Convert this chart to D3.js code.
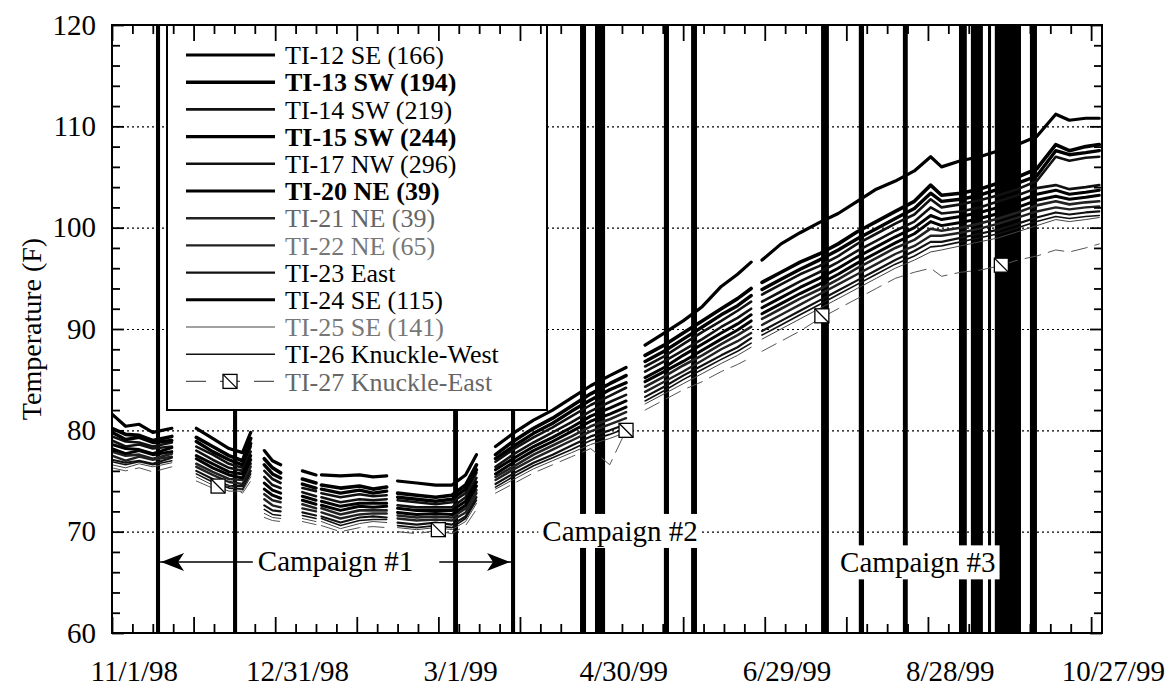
<!DOCTYPE html>
<html>
<head>
<meta charset="utf-8">
<script src="https://cdn.jsdelivr.net/npm/d3@7"></script>
<style>
  body { margin: 0; background: #fff; }
  svg text { font-family: "Liberation Serif", "Times New Roman", serif; fill: #000; }
</style>
</head>
<body>
<svg id="chart" width="1169" height="690"></svg>
<script>
// sample dates (gaps in the record are the null rows)
const dates = [
  "1998-10-24", "1998-10-29", "1998-11-03", "1998-11-08", "1998-11-15", "1998-11-19",
  "1998-11-24", "1998-11-30", "1998-12-06", "1998-12-11", "1998-12-14", "1998-12-16",
  "1998-12-19", "1998-12-22", "1998-12-25", "1998-12-29",
  "1999-01-02", "1999-01-07", "1999-01-08",
  "1999-01-09", "1999-01-16", "1999-01-23", "1999-01-28", "1999-02-02", "1999-02-04",
  "1999-02-06", "1999-02-13", "1999-02-20", "1999-02-26", "1999-03-03", "1999-03-07", "1999-03-10",
  "1999-03-14", "1999-03-21", "1999-03-28", "1999-04-04", "1999-04-11", "1999-04-18", "1999-04-25", "1999-05-01", "1999-05-04",
  "1999-05-08", "1999-05-15", "1999-05-22", "1999-05-29", "1999-06-05", "1999-06-11", "1999-06-16", "1999-06-18",
  "1999-06-20", "1999-06-27", "1999-07-04", "1999-07-11", "1999-07-18", "1999-07-25", "1999-08-01", "1999-08-08",
  "1999-08-15", "1999-08-21", "1999-08-25", "1999-09-01", "1999-09-08", "1999-09-15", "1999-09-22", "1999-09-29",
  "1999-10-06", "1999-10-11", "1999-10-17", "1999-10-22"
];

// temperatures (F) per thermocouple
const ti12 = [81.6, 80.4, 80.6, 79.8, 80.2, null, 80.2, 79.2, 78.2, 77.8, 79.8, null, 78.0, 77.0, 76.6, null, 76.0, 75.6, null, 75.6, 75.5, 75.6, 75.4, 75.5, null, 75.0, 74.8, 74.6, 74.6, 75.6, 77.6, null, 78.4, 79.8, 81.0, 82.0, 83.2, 84.4, 85.4, 86.2, null, 88.4, 89.6, 90.8, 92.2, 94.2, 95.4, 96.6, null, 96.8, 98.4, 99.5, 100.5, 101.4, 102.6, 103.8, 104.6, 105.6, 107.0, 106.0, 106.6, 107.0, 107.6, 108.2, 109.0, 111.2, 110.6, 110.8, 110.8];
const ti13 = [80.2, 79.6, 79.5, 79.0, 79.4, null, 79.3, 78.4, 77.5, 77.0, 79.2, null, 77.2, 76.3, 75.8, null, 75.2, 74.8, null, 74.6, 74.3, 74.5, 74.2, 74.4, null, 73.8, 73.6, 73.4, 73.6, 74.6, 76.6, null, 77.6, 79.0, 80.2, 81.2, 82.4, 83.6, 84.6, 85.4, null, 87.4, 88.4, 89.6, 90.8, 92.0, 93.0, 94.0, null, 94.6, 95.6, 96.6, 97.4, 98.4, 99.6, 100.6, 101.6, 102.6, 104.2, 103.2, 103.4, 103.8, 104.4, 105.0, 105.8, 108.2, 107.6, 108.0, 108.2];
const ti14 = [79.4, 78.9, 78.8, 78.4, 78.8, null, 78.4, 77.6, 76.7, 76.3, 78.4, null, 76.0, 75.2, 74.8, null, 74.3, 74.0, null, 73.8, 73.4, 73.7, 73.5, 73.6, null, 73.1, 72.9, 72.7, 72.9, 73.8, 75.8, null, 76.9, 78.2, 79.3, 80.3, 81.4, 82.5, 83.4, 84.2, null, 86.3, 87.3, 88.5, 89.7, 90.8, 91.8, 92.7, null, 93.4, 94.4, 95.4, 96.2, 97.2, 98.4, 99.4, 100.4, 101.3, 102.8, 102.0, 102.3, 102.7, 103.2, 103.8, 104.6, 107.0, 106.6, 106.9, 107.0];
const ti15 = [79.8, 79.1, 79.3, 78.8, 79.0, null, 78.9, 77.9, 77.1, 76.6, 78.7, null, 76.6, 75.7, 75.3, null, 74.7, 74.3, null, 74.2, 73.8, 74.1, 73.8, 74.0, null, 73.4, 73.2, 73.0, 73.2, 74.2, 76.1, null, 77.2, 78.5, 79.7, 80.7, 81.9, 83.0, 84.0, 84.7, null, 86.8, 87.8, 89.0, 90.2, 91.4, 92.3, 93.3, null, 93.9, 94.9, 95.9, 96.8, 97.8, 98.9, 99.9, 100.9, 101.9, 103.4, 102.6, 102.8, 103.2, 103.8, 104.4, 105.1, 107.6, 107.2, 107.4, 107.6];
const ti17 = [79.0, 78.4, 78.6, 78.2, 78.4, null, 78.0, 77.1, 76.3, 76.0, 77.9, null, 75.4, 74.6, 74.3, null, 73.9, 73.5, null, 73.4, 72.9, 73.2, 73.1, 73.2, null, 72.6, 72.4, 72.4, 72.4, 73.4, 75.3, null, 76.4, 77.7, 78.8, 79.8, 80.8, 81.9, 82.8, 83.5, null, 85.8, 86.8, 87.9, 89.0, 90.2, 91.1, 92.0, null, 92.7, 93.7, 94.7, 95.6, 96.6, 97.7, 98.7, 99.7, 100.6, 102.0, 101.4, 101.6, 102.0, 102.6, 103.2, 103.9, 104.2, 103.8, 104.0, 104.2];
const ti20 = [78.6, 78.2, 78.1, 77.7, 78.3, null, 77.5, 76.7, 75.9, 75.7, 77.5, null, 74.8, 74.1, 73.8, null, 73.5, 73.1, null, 73.0, 72.5, 72.8, 72.8, 72.8, null, 72.3, 72.1, 72.1, 72.1, 73.0, 74.9, null, 76.1, 77.3, 78.4, 79.3, 80.3, 81.4, 82.2, 82.9, null, 85.2, 86.2, 87.4, 88.5, 89.6, 90.5, 91.4, null, 92.1, 93.1, 94.1, 95.0, 96.0, 97.1, 98.1, 99.1, 100.0, 101.2, 100.8, 101.1, 101.5, 102.0, 102.6, 103.3, 103.7, 103.3, 103.5, 103.7];
const ti21 = [77.9, 77.5, 77.6, 77.2, 77.7, null, 76.7, 75.9, 75.2, 75.1, 76.7, null, 73.7, 73.1, 72.9, null, 72.7, 72.3, null, 72.3, 71.7, 72.1, 72.1, 72.1, null, 71.6, 71.4, 71.5, 71.4, 72.3, 74.1, null, 75.4, 76.5, 77.6, 78.5, 79.4, 80.4, 81.1, 81.8, null, 84.3, 85.3, 86.4, 87.4, 88.5, 89.4, 90.2, null, 91.0, 92.0, 93.0, 93.9, 94.9, 96.0, 97.0, 98.0, 98.8, 99.9, 99.7, 100.0, 100.4, 100.9, 101.5, 102.2, 102.6, 102.3, 102.5, 102.6];
const ti22 = [77.5, 77.0, 77.4, 77.1, 77.4, null, 76.4, 75.6, 74.9, 74.7, 76.4, null, 73.2, 72.6, 72.4, null, 72.3, 72.0, null, 71.9, 71.3, 71.7, 71.8, 71.8, null, 71.3, 71.1, 71.2, 71.1, 71.9, 73.8, null, 75.1, 76.2, 77.2, 78.1, 79.0, 79.9, 80.6, 81.2, null, 83.8, 84.8, 85.8, 86.9, 88.0, 88.8, 89.6, null, 90.4, 91.4, 92.4, 93.4, 94.4, 95.4, 96.4, 97.4, 98.2, 99.2, 99.2, 99.5, 99.9, 100.4, 101.0, 101.6, 102.0, 101.8, 102.0, 102.1];
const ti23 = [77.1, 76.8, 77.0, 76.7, 77.3, null, 76.0, 75.2, 74.5, 74.5, 76.0, null, 72.6, 72.1, 72.0, null, 71.9, 71.6, null, 71.5, 70.9, 71.4, 71.5, 71.4, null, 70.9, 70.7, 70.9, 70.7, 71.5, 73.4, null, 74.7, 75.8, 76.8, 77.6, 78.5, 79.4, 80.0, 80.6, null, 83.3, 84.3, 85.4, 86.4, 87.4, 88.2, 89.1, null, 89.8, 90.8, 91.8, 92.8, 93.8, 94.8, 95.8, 96.8, 97.7, 98.6, 98.6, 99.0, 99.4, 99.8, 100.4, 101.0, 101.5, 101.3, 101.5, 101.6];
const ti24 = [78.2, 77.7, 78.0, 77.6, 77.9, null, 77.2, 76.3, 75.6, 75.3, 77.1, null, 74.2, 73.6, 73.3, null, 73.1, 72.7, null, 72.6, 72.1, 72.5, 72.4, 72.5, null, 71.9, 71.7, 71.8, 71.7, 72.6, 74.5, null, 75.7, 76.9, 78.0, 78.9, 79.9, 80.9, 81.6, 82.3, null, 84.8, 85.8, 86.8, 87.9, 89.0, 89.9, 90.8, null, 91.5, 92.5, 93.5, 94.4, 95.4, 96.5, 97.5, 98.5, 99.4, 100.6, 100.2, 100.5, 100.9, 101.4, 102.0, 102.7, 103.1, 102.8, 103.0, 103.2];
const ti25 = [76.6, 76.3, 76.7, 76.4, 76.8, null, 75.4, 74.6, 74.0, 74.0, 75.4, null, 71.8, 71.4, 71.3, null, 71.3, 71.0, null, 71.0, 70.3, 70.8, 71.0, 70.9, null, 70.4, 70.2, 70.4, 70.2, 71.0, 72.8, null, 74.2, 75.2, 76.2, 77.0, 77.8, 78.6, 79.2, 79.8, null, 82.6, 83.6, 84.6, 85.6, 86.6, 87.4, 88.2, null, 89.0, 90.0, 91.0, 92.0, 93.0, 94.0, 95.0, 96.0, 96.8, 97.6, 97.8, 98.2, 98.6, 99.0, 99.6, 100.2, 100.8, 100.6, 100.8, 101.0];
const ti26 = [76.9, 76.6, 76.9, 76.6, 77.0, null, 75.7, 74.9, 74.3, 74.2, 75.7, null, 72.2, 71.7, 71.6, null, 71.6, 71.3, null, 71.3, 70.6, 71.1, 71.2, 71.2, null, 70.6, 70.4, 70.6, 70.4, 71.3, 73.1, null, 74.4, 75.5, 76.5, 77.3, 78.1, 79.0, 79.6, 80.2, null, 82.9, 83.9, 85.0, 86.0, 87.0, 87.8, 88.6, null, 89.4, 90.4, 91.4, 92.4, 93.4, 94.4, 95.4, 96.4, 97.2, 98.1, 98.2, 98.6, 99.0, 99.4, 100.0, 100.6, 101.1, 100.9, 101.1, 101.2];
const ti27 = [76.3, 76.0, 76.3, 75.9, 76.4, null, 75.0, 74.3, 74.6, 73.8, 75.0, null, 71.4, 71.1, 71.0, null, 71.0, 70.7, null, 70.6, 70.0, 70.4, 70.5, 70.4, null, 70.0, 69.8, 70.1, 69.8, 70.6, 72.2, null, 73.8, 74.8, 75.8, 76.6, 77.4, 78.2, 76.6, 80.0, null, 82.0, 83.0, 84.0, 84.8, 85.8, 86.5, 87.2, null, 87.8, 88.8, 89.8, 91.0, 92.0, 93.0, 94.0, 95.0, 95.6, 96.0, 95.2, 95.6, 95.8, 96.2, 96.8, 97.2, 97.8, 97.6, 98.0, 98.4];

// TI-27 symbol points
const markerDates27 = ["1998-12-02", "1999-02-21", "1999-05-01", "1999-07-12", "1999-09-16"];
const markerTemps27 = [74.5, 70.2, 80.0, 91.3, 96.3];

// black event bands [start, end]
const eventBars = [
  ["1998-11-09T04", "1998-11-10T16"],
  ["1998-12-07T12", "1998-12-09T00"],
  ["1999-02-26T10", "1999-02-28T05"],
  ["1999-03-19T17", "1999-03-21T05"],
  ["1999-04-14T02", "1999-04-16T07"],
  ["1999-04-19T14", "1999-04-23T07"],
  ["1999-05-14T22", "1999-05-16T19"],
  ["1999-05-24T22", "1999-05-27T02"],
  ["1999-07-11T17", "1999-07-14T14"],
  ["1999-07-25T14", "1999-07-27T12"],
  ["1999-08-10T19", "1999-08-12T14"],
  ["1999-08-31T10", "1999-09-03T07"],
  ["1999-09-04T19", "1999-09-09T05"],
  ["1999-09-11T02", "1999-09-12T05"],
  ["1999-09-13T14", "1999-09-23T05"],
  ["1999-09-26T12", "1999-09-29T02"]
];

const seriesNames = [
  "TI-12 SE (166)", "TI-13 SW (194)", "TI-14 SW (219)", "TI-15 SW (244)", "TI-17 NW (296)",
  "TI-20 NE (39)", "TI-21 NE (39)", "TI-22 NE (65)", "TI-23 East", "TI-24 SE (115)",
  "TI-25 SE (141)", "TI-26 Knuckle-West", "TI-27 Knuckle-East"
];
const seriesValues = [ti12, ti13, ti14, ti15, ti17, ti20, ti21, ti22, ti23, ti24, ti25, ti26, ti27];

const xLabelDates = ["1998-11-01", "1998-12-31", "1999-03-01", "1999-04-30", "1999-06-29", "1999-08-28", "1999-10-27"];
const xLabels = ["11/1/98", "12/31/98", "3/1/99", "4/30/99", "6/29/99", "8/28/99", "10/27/99"];
const yMajor = [60, 70, 80, 90, 100, 110, 120];
const yGrid = [70, 80, 90, 100, 110];

const campaigns = [
  { text: "Campaign #1", temp: 67.0 },
  { text: "Campaign #2", date: "1999-04-28T19", temp: 70.0 },
  { text: "Campaign #3", date: "1999-08-16T07", temp: 66.9 }
];

// line look per series (same order as seriesNames)
const styles = [
  { w: 3.2, c: "#000" }, { w: 3.6, c: "#000" }, { w: 2.6, c: "#111" }, { w: 3.4, c: "#000" },
  { w: 2.6, c: "#111" }, { w: 3.0, c: "#000" }, { w: 2.6, c: "#222" }, { w: 2.4, c: "#222" },
  { w: 2.2, c: "#111" }, { w: 3.0, c: "#000" }, { w: 1.0, c: "#444" }, { w: 1.6, c: "#111" },
  { w: 1.0, c: "#555", dash: "16,8" }
];
const labelLook = [
  { fw: "normal", c: "#000" }, { fw: "bold", c: "#000" }, { fw: "normal", c: "#000" }, { fw: "bold", c: "#000" },
  { fw: "normal", c: "#000" }, { fw: "bold", c: "#000" }, { fw: "normal", c: "#666" }, { fw: "normal", c: "#777" },
  { fw: "normal", c: "#000" }, { fw: "normal", c: "#000" }, { fw: "normal", c: "#777" }, { fw: "normal", c: "#000" },
  { fw: "normal", c: "#666" }
];

const parseDay = d3.timeParse("%Y-%m-%d");
const parseHour = d3.timeParse("%Y-%m-%dT%H");
const parseAny = s => s.length > 10 ? parseHour(s) : parseDay(s);

const svg = d3.select("#chart");
const plotL = 112, plotR = 1102, plotT = 25, plotB = 633;
const startDate = parseDay("1998-10-24");
const endDate = parseDay("1999-10-23");

const x = d3.scaleTime().domain([startDate, endDate]).range([plotL, plotR]);
const y = d3.scaleLinear().domain([60, 120]).range([plotB, plotT]);

svg.append("defs").append("clipPath").attr("id", "plot-clip")
  .append("rect").attr("x", plotL).attr("y", plotT).attr("width", plotR - plotL).attr("height", plotB - plotT);

// dotted grid
svg.append("g")
  .attr("transform", `translate(${plotL},0)`)
  .call(d3.axisLeft(y).tickValues(yGrid).tickSize(-(plotR - plotL)).tickFormat(""))
  .call(g => g.select(".domain").remove())
  .selectAll("line")
  .attr("stroke", "#000")
  .attr("stroke-width", 1.2)
  .attr("stroke-dasharray", "2,3");

// event bands
svg.append("g").selectAll("rect")
  .data(eventBars)
  .join("rect")
  .attr("x", d => x(parseAny(d[0])))
  .attr("width", d => x(parseAny(d[1])) - x(parseAny(d[0])))
  .attr("y", y(120))
  .attr("height", y(60) - y(120))
  .attr("fill", "#000");

// series
const parsedDates = dates.map(parseDay);
const line = d3.line()
  .defined(v => v != null)
  .x((v, i) => x(parsedDates[i]))
  .y(v => y(v));

const plot = svg.append("g").attr("clip-path", "url(#plot-clip)");
seriesValues.forEach((vals, i) => {
  plot.append("path")
    .attr("d", line(vals))
    .attr("fill", "none")
    .attr("stroke", styles[i].c)
    .attr("stroke-width", styles[i].w)
    .attr("stroke-linejoin", "round")
    .attr("stroke-linecap", "round")
    .attr("stroke-dasharray", styles[i].dash || null);
});

function drawMarker(g, cx, cy) {
  g.append("rect").attr("x", cx - 7).attr("y", cy - 7).attr("width", 14).attr("height", 14)
    .attr("fill", "#fff").attr("stroke", "#000").attr("stroke-width", 1.3);
  g.append("line").attr("x1", cx - 7).attr("y1", cy - 7).attr("x2", cx + 7).attr("y2", cy + 7)
    .attr("stroke", "#000").attr("stroke-width", 1.3);
}
markerDates27.forEach((d, i) => drawMarker(plot, x(parseDay(d)), y(markerTemps27[i])));

// legend
const legend = svg.append("g");
legend.append("rect")
  .attr("x", 167).attr("y", plotT).attr("width", 380).attr("height", 385)
  .attr("fill", "#fff").attr("stroke", "#000").attr("stroke-width", 2);
seriesNames.forEach((name, i) => {
  const ly = plotT + 30 + i * 27.2;
  legend.append("line")
    .attr("x1", 186).attr("x2", 275).attr("y1", ly).attr("y2", ly)
    .attr("stroke", styles[i].c)
    .attr("stroke-width", Math.max(styles[i].w, 1.2))
    .attr("stroke-dasharray", styles[i].dash ? "20,14" : null);
  if (i === seriesNames.length - 1) drawMarker(legend, 230, ly);
  legend.append("text")
    .attr("x", 285).attr("y", ly).attr("dy", "0.35em")
    .style("font-size", "26px")
    .style("font-weight", labelLook[i].fw)
    .style("fill", labelLook[i].c)
    .text(name);
});

// campaign annotations
const ann = svg.append("g");
function arrowHead(g, tipX, tipY, dir) {
  g.append("path")
    .attr("d", "M0,0 L23,-9 L17,0 L23,9 Z")
    .attr("transform", `translate(${tipX},${tipY}) scale(${dir},1)`)
    .attr("fill", "#000");
}
{
  const c = campaigns[0];
  const xL = x(parseAny(eventBars[0][1]));
  const xR = x(parseAny(eventBars[3][0]));
  const cy = y(c.temp);
  const t = ann.append("text")
    .attr("x", (xL + xR) / 2).attr("y", cy).attr("dy", "0.32em")
    .attr("text-anchor", "middle").style("font-size", "29px").text(c.text);
  const bb = t.node().getBBox();
  ann.append("line").attr("x1", xL).attr("x2", bb.x - 5).attr("y1", cy).attr("y2", cy)
    .attr("stroke", "#000").attr("stroke-width", 1.6);
  ann.append("line").attr("x1", bb.x + bb.width + 26).attr("x2", xR).attr("y1", cy).attr("y2", cy)
    .attr("stroke", "#000").attr("stroke-width", 1.6);
  arrowHead(ann, xL + 1, cy, 1);
  arrowHead(ann, xR - 1, cy, -1);
}
campaigns.slice(1).forEach(c => {
  const g = ann.append("g");
  const bg = g.append("rect").attr("fill", "#fff");
  const t = g.append("text")
    .attr("x", x(parseAny(c.date))).attr("y", y(c.temp)).attr("dy", "0.32em")
    .attr("text-anchor", "middle").style("font-size", "29px").text(c.text);
  const bb = t.node().getBBox();
  bg.attr("x", bb.x - 4).attr("y", bb.y - 1).attr("width", bb.width + 8).attr("height", bb.height + 2);
});

// axes (ticks point inward)
const tickDays = d3.range(0, 365, 7.5);
const tickDates = tickDays.map(d => new Date(+startDate + d * 864e5));
const majorX = tickDates.filter((d, i) => i % 4 === 0);
const minorX = tickDates.filter((d, i) => i % 4 !== 0);
const minorY = d3.range(62, 120, 2).filter(v => v % 10 !== 0);

function styleTicks(g) {
  g.select(".domain").remove();
  g.selectAll("line").attr("stroke", "#000").attr("stroke-width", 1.8);
}

svg.append("g").attr("transform", `translate(0,${plotB})`)
  .call(d3.axisBottom(x).tickValues(majorX).tickSize(-16).tickFormat("")).call(styleTicks);
svg.append("g").attr("transform", `translate(0,${plotB})`)
  .call(d3.axisBottom(x).tickValues(minorX).tickSize(-9).tickFormat("")).call(styleTicks);
svg.append("g").attr("transform", `translate(0,${plotT})`)
  .call(d3.axisTop(x).tickValues(majorX).tickSize(-16).tickFormat("")).call(styleTicks);
svg.append("g").attr("transform", `translate(0,${plotT})`)
  .call(d3.axisTop(x).tickValues(minorX).tickSize(-9).tickFormat("")).call(styleTicks);

svg.append("g").attr("transform", `translate(0,${plotB})`)
  .call(d3.axisBottom(x).tickValues(xLabelDates.map(parseDay)).tickSize(0).tickPadding(27)
    .tickFormat((d, i) => xLabels[i]))
  .call(g => g.select(".domain").remove())
  .selectAll("text").style("font-size", "29px")
  .style("font-family", "'Liberation Serif', 'Times New Roman', serif");

svg.append("g").attr("transform", `translate(${plotL},0)`)
  .call(d3.axisLeft(y).tickValues(yMajor).tickSize(-12).tickPadding(16))
  .call(styleTicks)
  .selectAll("text").style("font-size", "29px")
  .style("font-family", "'Liberation Serif', 'Times New Roman', serif");
svg.append("g").attr("transform", `translate(${plotL},0)`)
  .call(d3.axisLeft(y).tickValues(minorY).tickSize(-8).tickFormat("")).call(styleTicks);
svg.append("g").attr("transform", `translate(${plotR},0)`)
  .call(d3.axisRight(y).tickValues(yMajor).tickSize(-12).tickFormat("")).call(styleTicks);
svg.append("g").attr("transform", `translate(${plotR},0)`)
  .call(d3.axisRight(y).tickValues(minorY).tickSize(-8).tickFormat("")).call(styleTicks);

// frame
svg.append("rect")
  .attr("x", plotL).attr("y", plotT).attr("width", plotR - plotL).attr("height", plotB - plotT)
  .attr("fill", "none").attr("stroke", "#000").attr("stroke-width", 2);

// y title
svg.append("text")
  .attr("transform", `translate(31,${(plotT + plotB) / 2}) rotate(-90)`)
  .attr("dy", "0.35em")
  .attr("text-anchor", "middle")
  .style("font-size", "28px")
  .text("Temperature (F)");
</script>
</body>
</html>
